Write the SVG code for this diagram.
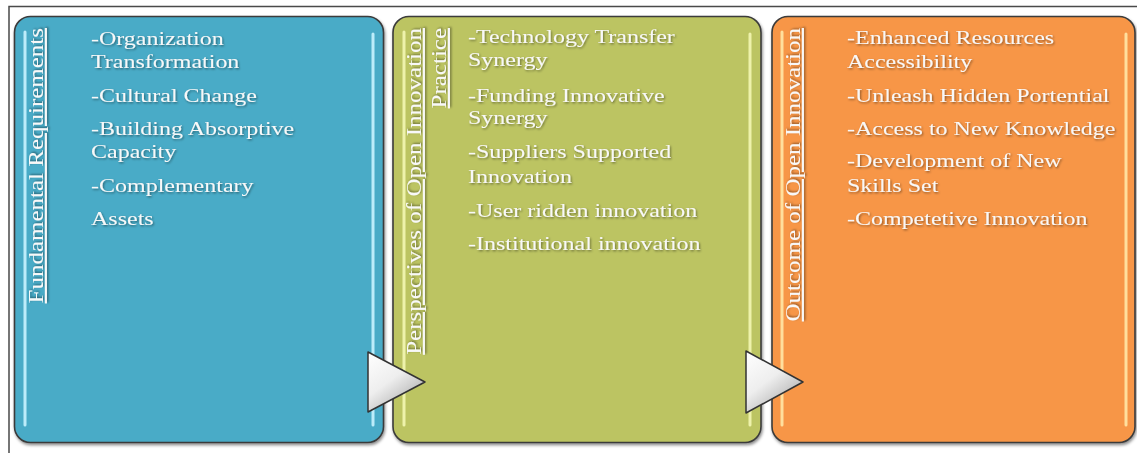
<svg xmlns="http://www.w3.org/2000/svg" width="1137" height="453" viewBox="0 0 1137 453">
  <defs>
    <style>
      .box { stroke: #3b3b3b; stroke-width: 1.6; filter: url(#boxShadow); }
      .blue { fill: #4aabc7; }
      .green { fill: #bcc462; }
      .orange { fill: #f79646; }
      .gloss { fill: none; stroke-width: 3; stroke-linecap: round; opacity: 0.9; }
      .gloss-blue { stroke: #c9f3ff; }
      .gloss-green { stroke: #f3f7b4; }
      .gloss-orange { stroke: #ffe7a6; }
      .item { font-family: "Liberation Serif", "Times New Roman", serif; font-size: 24px; fill: #f8f8f8; filter: url(#textShadow); }
      .title { font-family: "Liberation Serif", "Times New Roman", serif; font-size: 25px; fill: #f8f8f8; text-decoration: underline; text-anchor: end; filter: url(#textShadow); }
      .arrow { fill: url(#arrowFill); stroke: #333333; stroke-width: 1.5; stroke-linejoin: round; }
    </style>
    <filter id="boxShadow" x="-5%" y="-5%" width="110%" height="110%">
      <feDropShadow dx="1" dy="2" stdDeviation="1.5" flood-color="#000000" flood-opacity="0.45"/>
    </filter>
    <filter id="textShadow" x="-10%" y="-20%" width="120%" height="150%">
      <feDropShadow dx="1" dy="1.5" stdDeviation="1" flood-color="#000000" flood-opacity="0.45"/>
    </filter>
    <linearGradient id="arrowFill" x1="0" y1="0" x2="0.7" y2="1">
      <stop offset="0" stop-color="#ffffff"/>
      <stop offset="0.5" stop-color="#eeeeee"/>
      <stop offset="1" stop-color="#a9a9a9"/>
    </linearGradient>
  </defs>

  <rect width="1137" height="453" fill="#ffffff"/>
  <!-- outer frame (top and left edges) -->
  <path d="M9 453 V6.5 H1137" fill="none" stroke="#4a4a4a" stroke-width="1.5"/>

  <!-- Fundamental Requirements -->
  <g id="fundamental">
    <rect class="box blue" x="14.5" y="16.5" width="369" height="426" rx="16"/>
    <line class="gloss gloss-blue" x1="25" y1="32" x2="25" y2="425"/>
    <line class="gloss gloss-blue" x1="373" y1="34" x2="373" y2="425"/>
    <text class="title" transform="translate(43 28) rotate(-90) scale(1 0.85)">Fundamental Requirements</text>
    <g transform="scale(1 0.82)">
      <text class="item" x="91" y="55">-Organization</text>
      <text class="item" x="91" y="82.9">Transformation</text>
      <text class="item" x="91" y="124.4">-Cultural Change</text>
      <text class="item" x="91" y="164.6">-Building Absorptive</text>
      <text class="item" x="91" y="192.7">Capacity</text>
      <text class="item" x="91" y="234.1">-Complementary</text>
      <text class="item" x="91" y="274.4">Assets</text>
    </g>
  </g>

  <!-- Perspectives of Open Innovation Practice -->
  <g id="perspectives">
    <rect class="box green" x="393" y="16.5" width="368" height="426" rx="16"/>
    <line class="gloss gloss-green" x1="404" y1="32" x2="404" y2="425"/>
    <line class="gloss gloss-green" x1="750" y1="34" x2="750" y2="425"/>
    <text class="title" transform="translate(421 28) rotate(-90) scale(1 0.85)">Perspectives of Open Innovation</text>
    <text class="title" transform="translate(446 28) rotate(-90) scale(1 0.85)">Practice</text>
    <g transform="scale(1 0.82)">
      <text class="item" x="468" y="52.4">-Technology Transfer</text>
      <text class="item" x="468" y="80.5">Synergy</text>
      <text class="item" x="468" y="124.4">-Funding Innovative</text>
      <text class="item" x="468" y="151.2">Synergy</text>
      <text class="item" x="468" y="192.7">-Suppliers Supported</text>
      <text class="item" x="468" y="223.2">Innovation</text>
      <text class="item" x="468" y="264.6">-User ridden innovation</text>
      <text class="item" x="468" y="304.9">-Institutional innovation</text>
    </g>
  </g>

  <!-- Outcome of Open Innovation -->
  <g id="outcome">
    <rect class="box orange" x="772" y="16.5" width="363" height="426" rx="16"/>
    <line class="gloss gloss-orange" x1="782" y1="32" x2="782" y2="425"/>
    <line class="gloss gloss-orange" x1="1126" y1="34" x2="1126" y2="425"/>
    <text class="title" transform="translate(800 28) rotate(-90) scale(1 0.85)">Outcome of Open Innovation</text>
    <g transform="scale(1 0.82)">
      <text class="item" x="847" y="53.7">-Enhanced Resources</text>
      <text class="item" x="847" y="82.9">Accessibility</text>
      <text class="item" x="847" y="124.4">-Unleash Hidden Portential</text>
      <text class="item" x="847" y="164.6">-Access to New Knowledge</text>
      <text class="item" x="847" y="203.7">-Development of New</text>
      <text class="item" x="847" y="234.1">Skills Set</text>
      <text class="item" x="847" y="274.4">-Competetive Innovation</text>
    </g>
  </g>

  <!-- flow arrows between the stages -->
  <g id="connectors">
    <path class="arrow" d="M368 352 L425 382 L368 412 Z"/>
    <path class="arrow" d="M746 351 L803 382 L746 413 Z"/>
  </g>
</svg>
